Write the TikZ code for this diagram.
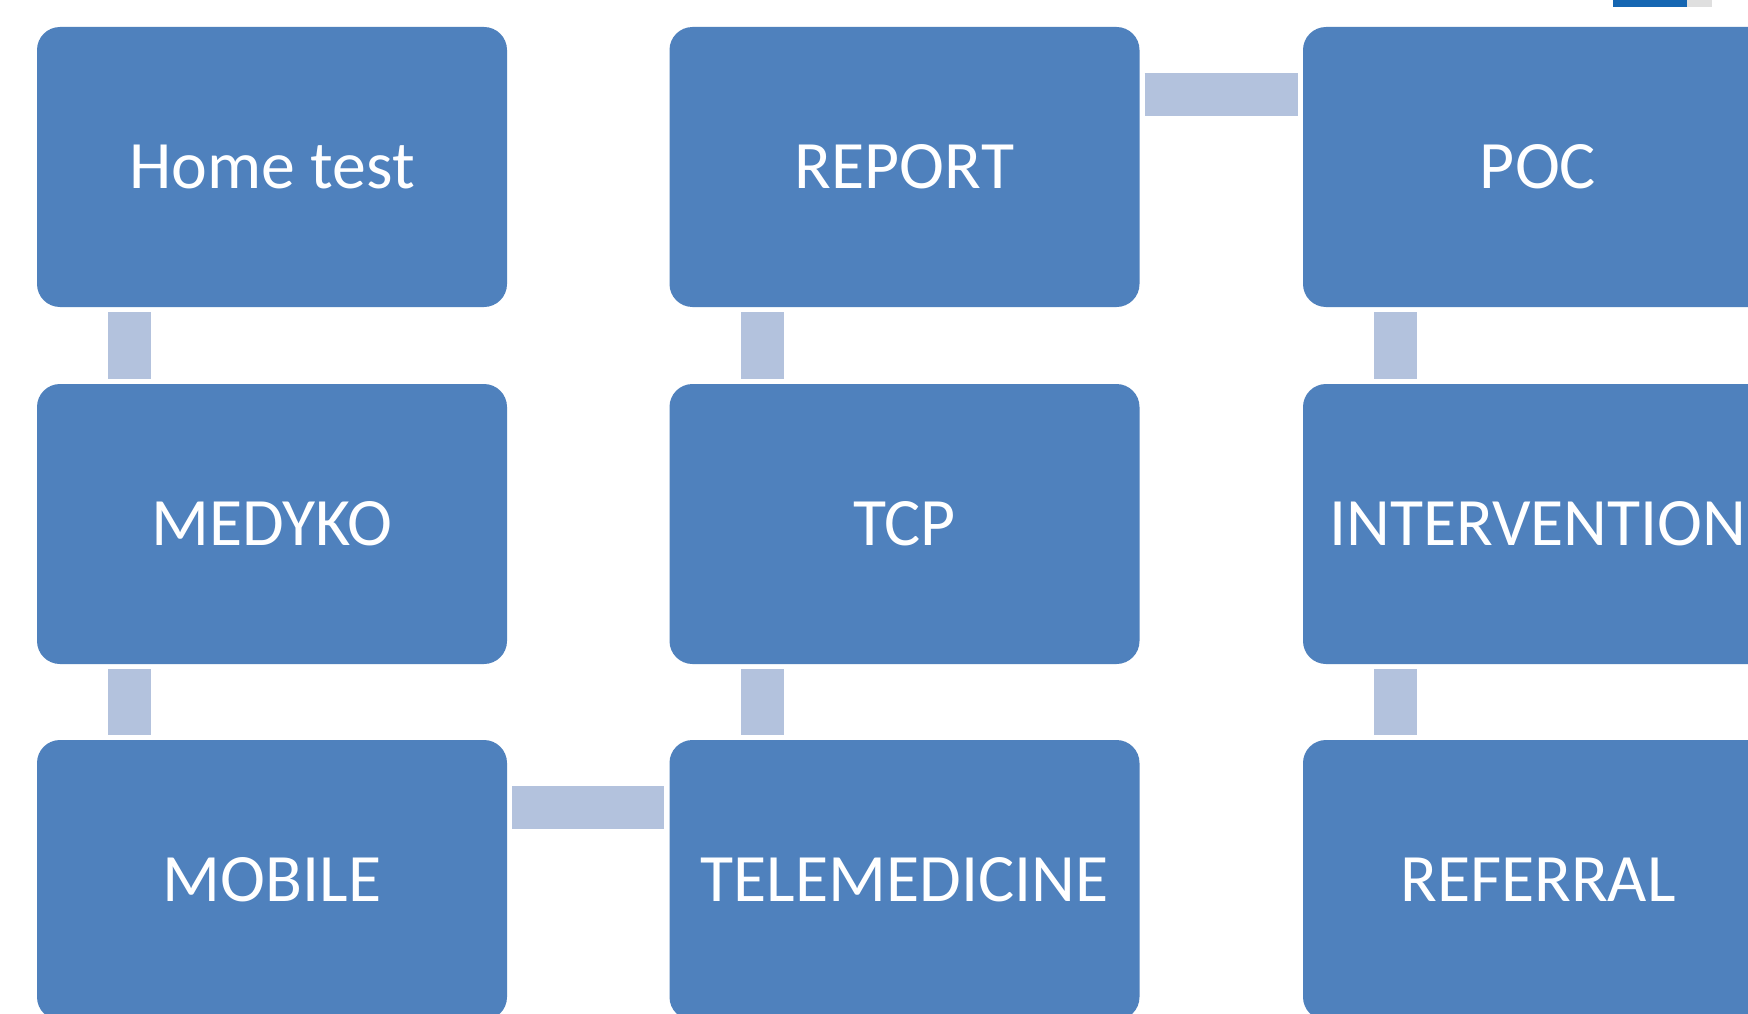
\documentclass[tikz,border=0pt]{standalone}
\usepackage{fontspec}
\setmainfont{Carlito}
\definecolor{boxblue}{HTML}{4F81BD}
\definecolor{linkblue}{HTML}{B3C2DD}
\definecolor{tabblue}{HTML}{1566B2}
\begin{document}
\begin{tikzpicture}[x=1pt,y=-1pt,
  stepbox/.style={fill=boxblue, draw=none, rounded corners=23pt, minimum width=470pt, minimum height=280pt, inner sep=0pt, text=white, font=\fontsize{67.8}{80}\selectfont},
  vlink/.style={draw=linkblue, line width=43pt, shorten <=5pt, shorten >=5pt},
  hlink/.style={draw=linkblue, line width=43pt, shorten <=5pt, shorten >=5pt}]
\useasboundingbox (0,0) rectangle (1748,1014);
\clip (0,0) rectangle (1748,1014);
\fill[white] (0,0) rectangle (1748,1014);
\fill[tabblue] (1613,0) rectangle (1687,7);
\fill[gray!25] (1687,0) rectangle (1712,7);
\node[stepbox] (home) at (272,167) {Home test};
\node[stepbox] (medyko) at (272,524) {MEDYKO};
\node[stepbox] (mobile) at (272,880) {MOBILE};
\node[stepbox] (tele) at (904.5,880) {TELEMEDICINE};
\node[stepbox] (tcp) at (904.5,524) {TCP};
\node[stepbox] (report) at (904.5,167) {REPORT};
\node[stepbox] (poc) at (1538,167) {POC};
\node[stepbox] (inter) at (1538,524) {INTERVENTION};
\node[stepbox] (ref) at (1538,880) {REFERRAL};
\draw[vlink] ([xshift=93pt]home.south west) -- ([xshift=93pt]medyko.north west);
\draw[vlink] ([xshift=93pt]medyko.south west) -- ([xshift=93pt]mobile.north west);
\draw[hlink] ([yshift=-68pt]mobile.north east) -- ([yshift=-68pt]tele.north west);
\draw[vlink] ([xshift=93pt]tele.north west) -- ([xshift=93pt]tcp.south west);
\draw[vlink] ([xshift=93pt]tcp.north west) -- ([xshift=93pt]report.south west);
\draw[hlink] ([yshift=-68pt]report.north east) -- ([yshift=-68pt]poc.north west);
\draw[vlink] ([xshift=93pt]poc.south west) -- ([xshift=93pt]inter.north west);
\draw[vlink] ([xshift=93pt]inter.south west) -- ([xshift=93pt]ref.north west);
\end{tikzpicture}
\end{document}
